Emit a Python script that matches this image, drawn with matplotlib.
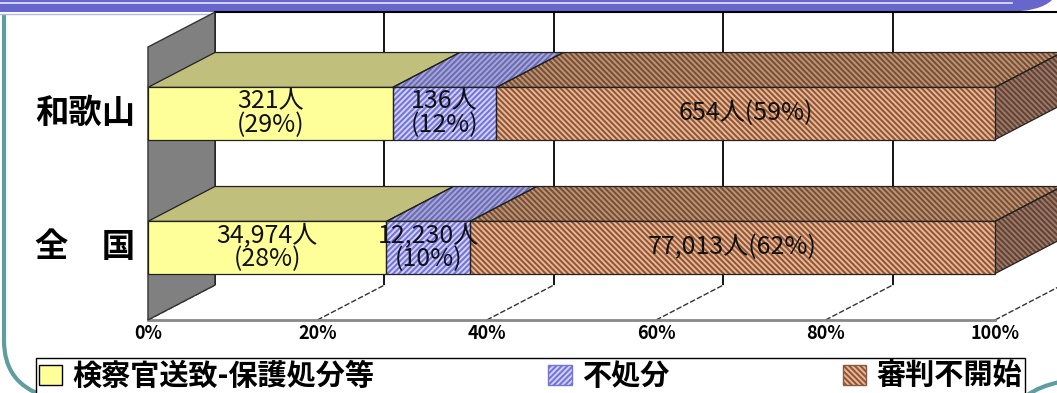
import matplotlib
import matplotlib.pyplot as plt
from matplotlib.patches import Polygon, Patch, PathPatch
from matplotlib.path import Path

matplotlib.use("Agg")

plt.rcParams["font.family"] = ["Noto Sans CJK JP", "DejaVu Sans"]
plt.rcParams["hatch.linewidth"] = 1.5

# data
categories = ["全　国", "和歌山"]
series_names = ["検察官送致-保護処分等", "不処分", "審判不開始"]
counts_zenkoku = [34974, 12230, 77013]
counts_wakayama = [321, 136, 654]
counts = [counts_zenkoku, counts_wakayama]
x_ticks = [0, 20, 40, 60, 80, 100]

# styles per series
front_colors = ["#FFFF99", "#D4D4FF", "#F4B890"]
front_hatch_colors = [None, "#7474DA", "#8A5A40"]
top_colors = ["#C0C07C", "#A8A8D8", "#C29472"]
top_hatch_colors = [None, "#6C6CB6", "#75503A"]
hatches = [None, "//////", "\\\\\\\\\\\\"]
side_color = "#A07A64"
side_hatch_color = "#60443A"

# 3d box geometry (data units: percent across, category index up)
bar_half = 0.195
dx, dy = 7.9, 0.26
floor, top = -0.541, 1.496

fig = plt.figure(figsize=(10.57, 3.93), dpi=100, facecolor="white")

# slide decoration
deco = fig.add_axes([0, 0, 1, 1], zorder=0)
deco.set_xlim(0, 1057)
deco.set_ylim(393, 0)
deco.axis("off")
band = Path(
    [(0, 0), (1052, 0), (1040, 12), (1004, 12), (0, 12), (0, 0)],
    [Path.MOVETO, Path.LINETO, Path.CURVE3, Path.CURVE3, Path.LINETO, Path.CLOSEPOLY],
)
deco.add_patch(PathPatch(band, facecolor="#6666CC", edgecolor="none"))
deco.plot([0, 1012], [3, 3], color="#E6E6FA", lw=1.2)
deco.plot([0, 215], [13.5, 13.5], color="#B8B8E6", lw=1)
left_curve = Path(
    [(4, 15), (4, 340), (4, 370), (18, 387), (44, 396)],
    [Path.MOVETO, Path.LINETO, Path.CURVE4, Path.CURVE4, Path.CURVE4],
)
deco.add_patch(PathPatch(left_curve, facecolor="none", edgecolor="#5F9EA0", lw=3))
right_curve = Path(
    [(1026, 396), (1036, 389), (1046, 385), (1060, 382)],
    [Path.MOVETO, Path.CURVE4, Path.CURVE4, Path.CURVE4],
)
deco.add_patch(PathPatch(right_curve, facecolor="none", edgecolor="#5F9EA0", lw=3))

ax = fig.add_axes([0, 0, 1, 1], zorder=1)
ax.patch.set_alpha(0)
ax.set_xlim(-17.47, 107.32)
ax.set_ylim(-1.086, 1.847)
ax.axis("off")


def face(pts, fc, hc, hatch, z):
    ax.add_patch(Polygon(pts, closed=True, facecolor=fc,
                         edgecolor=hc if hc else fc, hatch=hatch, lw=0, zorder=z))
    ax.add_patch(Polygon(pts, closed=True, fill=False, edgecolor="#222222",
                         lw=0.9, zorder=z + 0.1))


# back wall
ax.add_patch(Polygon([(dx, floor + dy), (100 + dx, floor + dy),
                      (100 + dx, top + dy), (dx, top + dy)],
                     closed=True, facecolor="white", edgecolor="none", zorder=1))
for g in x_ticks:
    ax.plot([g + dx, g + dx], [floor + dy, top + dy], color="black", lw=1.3, zorder=1.5)
ax.plot([dx, 100 + dx], [top + dy, top + dy], color="black", lw=1.5, zorder=1.5)

# floor
ax.add_patch(Polygon([(0, floor), (100, floor), (100 + dx, floor + dy), (dx, floor + dy)],
                     closed=True, facecolor="white", edgecolor="none", zorder=2))
for g in x_ticks:
    ax.plot([g, g + dx], [floor, floor + dy], color="#333333", lw=1,
            ls=(0, (4, 1.5)), zorder=2.5)
ax.plot([0, 100], [floor, floor], color="#888888", lw=2, zorder=2.6)

# left wall
ax.add_patch(Polygon([(0, floor), (0, top), (dx, top + dy), (dx, floor + dy)],
                     closed=True, facecolor="#808080", edgecolor="#333333", lw=1, zorder=3))

# bars
for yi, row in enumerate(counts):
    total = sum(row)
    left = 0.0
    y0, y1 = yi - bar_half, yi + bar_half
    for si, v in enumerate(row):
        share = v / total * 100
        right = left + share
        face([(left, y1), (right, y1), (right + dx, y1 + dy), (left + dx, y1 + dy)],
             top_colors[si], top_hatch_colors[si], hatches[si], 4)
        face([(left, y0), (right, y0), (right, y1), (left, y1)],
             front_colors[si], front_hatch_colors[si], hatches[si], 5)
        if si == len(row) - 1:
            face([(right, y0), (right + dx, y0 + dy), (right + dx, y1 + dy), (right, y1)],
                 side_color, side_hatch_color, hatches[si], 4)
        if si < len(row) - 1:
            label = f"{v:,}人\n({share:.0f}%)"
        else:
            label = f"{v:,}人({share:.0f}%)"
        ax.text((left + right) / 2, yi, label, ha="center", va="center",
                fontsize=18, linespacing=0.9, color="#111111", zorder=7)
        left = right
    ax.text(-1.5, yi, categories[yi], ha="right", va="center",
            fontsize=24, fontweight="bold", color="black", zorder=7)

for g in x_ticks:
    ax.annotate(f"{g}%", (g, floor), xytext=(0, -3), textcoords="offset points",
                ha="center", va="top", fontsize=13, fontweight="bold", zorder=7)

handles = []
for si in range(len(series_names)):
    handles.append(Patch(facecolor=front_colors[si],
                         edgecolor=front_hatch_colors[si] or "black",
                         hatch=hatches[si], lw=1))
fig.legend(handles, series_names, loc="upper left", mode="expand", ncol=3,
           bbox_to_anchor=(36 / 1057, 1 - 362 / 393, (1025 - 36) / 1057, 0.01),
           prop={"weight": "bold", "size": 21}, frameon=True, fancybox=False,
           edgecolor="black", framealpha=1, borderpad=0.1, handlelength=0.8,
           handleheight=0.7, handletextpad=0.35, borderaxespad=0)

fig.savefig("out.png", dpi=100, facecolor="white")
